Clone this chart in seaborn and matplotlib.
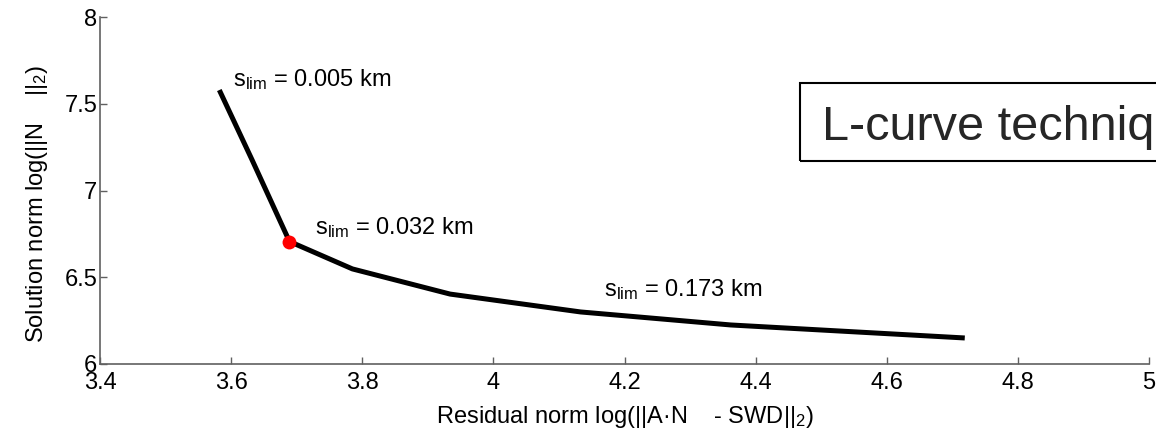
import matplotlib
matplotlib.use("Agg")
import matplotlib.pyplot as plt
import matplotlib.patches as mpatches
import numpy as np
import pandas as pd
import seaborn as sns

# L-curve: residual norm vs. solution norm (log scale values)
residual_norm = [3.582, 3.632, 3.689, 3.785, 3.934, 4.133, 4.362, 4.719]
solution_norm = [7.579, 7.176, 6.706, 6.548, 6.403, 6.300, 6.225, 6.150]

# Optimal corner of the curve
corner_x = [3.689]
corner_y = [6.706]

# Smoothing-limit annotations
label_text = ["0.005", "0.032", "0.173"]
label_x = [3.603, 3.728, 4.168]
label_y = [7.602, 6.749, 6.392]

x_ticks = [3.4, 3.6, 3.8, 4.0, 4.2, 4.4, 4.6, 4.8, 5.0]
x_tick_labels = ["3.4", "3.6", "3.8", "4", "4.2", "4.4", "4.6", "4.8", "5"]
y_ticks = [6.0, 6.5, 7.0, 7.5, 8.0]
y_tick_labels = ["6", "6.5", "7", "7.5", "8"]

sns.set_theme(style="ticks")
plt.rcParams["font.family"] = ["Liberation Sans", "DejaVu Sans"]
plt.rcParams["mathtext.fontset"] = "custom"
plt.rcParams["mathtext.rm"] = "Liberation Sans"

FS = 17

W, H = 1156, 437
fig = plt.figure(figsize=(W / 100, H / 100), dpi=100)
ax = fig.add_axes([100 / W, (H - 364) / H, 1049 / W, 347 / H])

df = pd.DataFrame({"residual": residual_norm, "solution": solution_norm})
sns.lineplot(data=df, x="residual", y="solution", sort=False, estimator=None,
             color="black", linewidth=3.6, ax=ax, solid_capstyle="butt")
sns.scatterplot(x=corner_x, y=corner_y, color="#ff0000", s=100, linewidth=0,
                zorder=5, ax=ax)

for txt, xx, yy in zip(label_text, label_x, label_y):
    ax.text(xx, yy, r"$\mathregular{s_{lim}}$ = " + txt + " km",
            fontsize=FS, ha="left", va="baseline", color="black")

ax.set_xlim(3.4, 5.0)
ax.set_ylim(6.0, 8.0)
ax.set_xticks(x_ticks)
ax.set_xticklabels(x_tick_labels)
ax.set_yticks(y_ticks)
ax.set_yticklabels(y_tick_labels)

spine_color = "#606060"
for side in ("top", "right"):
    ax.spines[side].set_visible(False)
for side in ("left", "bottom"):
    ax.spines[side].set_color(spine_color)
    ax.spines[side].set_linewidth(1.2)
ax.tick_params(axis="both", direction="in", length=5, width=1.0,
               color=spine_color, labelsize=FS, labelcolor="black")
ax.tick_params(axis="x", pad=6)
ax.tick_params(axis="y", pad=2)

ax.set_xlabel(r"Residual norm log(||A·N    - SWD||$\mathregular{_2}$)",
              fontsize=FS, color="black")
ax.set_ylabel(r"Solution norm log(||N    ||$\mathregular{_2}$)",
              fontsize=FS, color="black")
ax.xaxis.set_label_coords(0.5, -0.115)
ax.yaxis.set_label_coords(-0.048, 0.46)

# Title box running off the right edge
rect = mpatches.Rectangle((800 / W, (H - 161) / H), 500 / W, 78 / H,
                          transform=fig.transFigure, fill=False,
                          edgecolor="black", linewidth=1.5, clip_on=False)
fig.patches.append(rect)
fig.text(822 / W, (H - 140) / H, "L-curve technique", fontsize=35,
         color="#262626", ha="left", va="baseline")

fig.savefig("out.png", dpi=100)
